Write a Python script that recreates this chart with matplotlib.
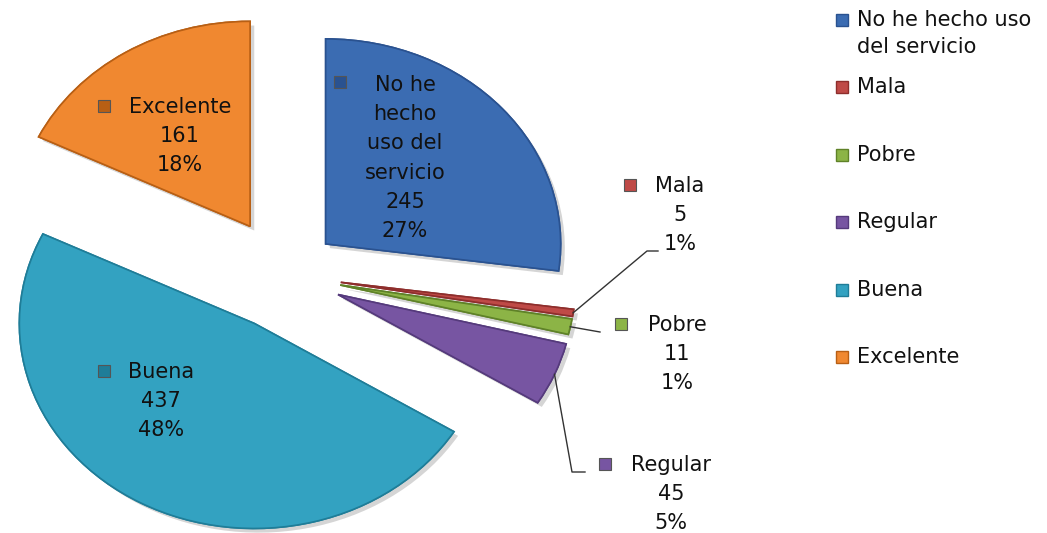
import matplotlib.pyplot as plt
import matplotlib.patheffects as pe
from matplotlib.lines import Line2D
import numpy as np

categories = ["No he hecho uso del servicio", "Mala", "Pobre", "Regular", "Buena", "Excelente"]
counts = [245, 5, 11, 45, 437, 161]
slice_names = ["No he\nhecho\nuso del\nservicio", "Mala", "Pobre", "Regular", "Buena", "Excelente"]
legend_names = ["No he hecho uso\ndel servicio", "Mala", "Pobre", "Regular", "Buena", "Excelente"]

colors = ["#3B6CB2", "#BF4A47", "#8CB446", "#7755A2", "#33A2C1", "#F08830"]
edges = ["#2A5290", "#8E2E2C", "#5F8228", "#553A7C", "#1F7D98", "#B85F14"]
explode = [0.23, 0.24, 0.24, 0.245, 0.27, 0.28]

W, H = 1047, 533
CX, CY = 285, 275     # pie centre, pixels from top-left
RX, RY = 235, 205     # pie radii, pixels

# label block centres (x, y) and marker spots, pixels from top-left
label_pos = [(405, 158), (680, 215), (677, 354), (671, 494), (161, 401), (180, 136)]
marker_pos = [(340, 82), (630, 185), (621, 324), (605, 464), (104, 371), (104, 106)]
inside = {0, 4, 5}
leader_pts = {1: [(647, 251), (658, 251)], 2: [(600, 332)], 3: [(572, 472), (585, 472)]}
legend_y = [33.5, 87, 155, 222, 290, 357]
FONT = 15


def fx(x):
    return x / W


def fy(y):
    return 1 - y / H


def main() -> None:
    fig = plt.figure(figsize=(W / 100, H / 100), dpi=100)
    ax = fig.add_axes([0, 0, 1, 1])

    wedges, _ = ax.pie(
        counts,
        explode=explode,
        colors=colors,
        startangle=90,
        counterclock=False,
        radius=1,
        wedgeprops=dict(linewidth=1.2),
    )
    for w, ec in zip(wedges, edges):
        w.set_edgecolor(ec)
        w.set_path_effects([pe.withSimplePatchShadow(offset=(3, -3), shadow_rgbFace="#888888", alpha=0.35),
                            pe.Normal()])

    ax.set_aspect("auto")
    ax.set_xlim(-CX / RX, (W - CX) / RX)
    ax.set_ylim(-(H - CY) / RY, CY / RY)
    ax.axis("off")

    total = sum(counts)
    for i, (name, n) in enumerate(zip(slice_names, counts)):
        txt = f"{name}\n{n}\n{round(100 * n / total)}%"
        lx, ly = label_pos[i]
        fig.text(fx(lx), fy(ly), txt, ha="center", va="center", fontsize=FONT,
                 linespacing=1.57, color="#111111")
        mx, my = marker_pos[i]
        face = edges[i] if i in inside else colors[i]
        fig.add_artist(Line2D([fx(mx)], [fy(my)], marker="s", markersize=8,
                              markerfacecolor=face, markeredgecolor="#555555",
                              markeredgewidth=0.8, transform=fig.transFigure))

    # leader lines for the thin slices
    for i, pts in leader_pts.items():
        w = wedges[i]
        mid = np.deg2rad((w.theta1 + w.theta2) / 2)
        r = 1 + explode[i]
        sx = CX + r * np.cos(mid) * RX
        sy = CY - r * np.sin(mid) * RY
        xs = [sx] + [p[0] for p in pts]
        ys = [sy] + [p[1] for p in pts]
        fig.add_artist(Line2D([fx(x) for x in xs], [fy(y) for y in ys], color="#333333",
                              linewidth=1, transform=fig.transFigure))

    # legend on the right
    for i, name in enumerate(legend_names):
        y = legend_y[i]
        fig.text(fx(857), fy(y), name, ha="left", va="center", fontsize=FONT,
                 linespacing=1.45, color="#111111")
        my = 20 if i == 0 else y
        fig.add_artist(Line2D([fx(842)], [fy(my)], marker="s", markersize=8,
                              markerfacecolor=colors[i], markeredgecolor=edges[i],
                              transform=fig.transFigure))

    fig.savefig("out.png", dpi=100)


if __name__ == "__main__":
    main()
